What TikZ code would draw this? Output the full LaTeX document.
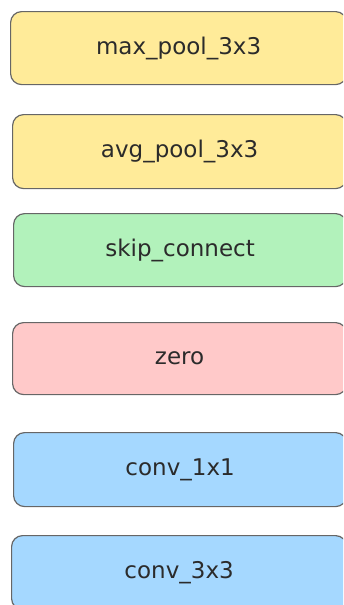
\documentclass[tikz,border=0pt]{standalone}
\usepackage{fontspec}
\setmainfont{DejaVu Sans}
\definecolor{poolfill}{HTML}{FFEB99}
\definecolor{skipfill}{HTML}{B2F2BB}
\definecolor{zerofill}{HTML}{FFC9C9}
\definecolor{convfill}{HTML}{A5D8FF}
\definecolor{edge}{HTML}{666666}
\definecolor{ink}{HTML}{2B2B2B}
\tikzset{
  opbox/.style={draw=edge, line width=1.2pt, rounded corners=11pt,
    text=ink, font=\fontsize{23}{26}\selectfont, inner sep=0pt,
    anchor=north west},
}
\begin{document}
\begin{tikzpicture}[x=1pt,y=1pt]
\useasboundingbox (0,0) rectangle (343,-605);
\clip (0,0) rectangle (343,-605);
\node[opbox, fill=poolfill, minimum width=336pt, minimum height=73pt] (maxpool) at (10,-11) {max\_pool\_3x3};
\node[opbox, fill=poolfill, minimum width=334pt, minimum height=74pt] (avgpool) at (12,-114) {avg\_pool\_3x3};
\node[opbox, fill=skipfill, minimum width=333pt, minimum height=73pt] (skip) at (13,-213) {skip\_connect};
\node[opbox, fill=zerofill, minimum width=334pt, minimum height=72pt] (zero) at (12,-322) {zero};
\node[opbox, fill=convfill, minimum width=333pt, minimum height=74pt] (conva) at (13,-432) {conv\_1x1};
\node[opbox, fill=convfill, minimum width=335pt, minimum height=74pt] (convb) at (11,-535) {conv\_3x3};
\end{tikzpicture}
\end{document}
